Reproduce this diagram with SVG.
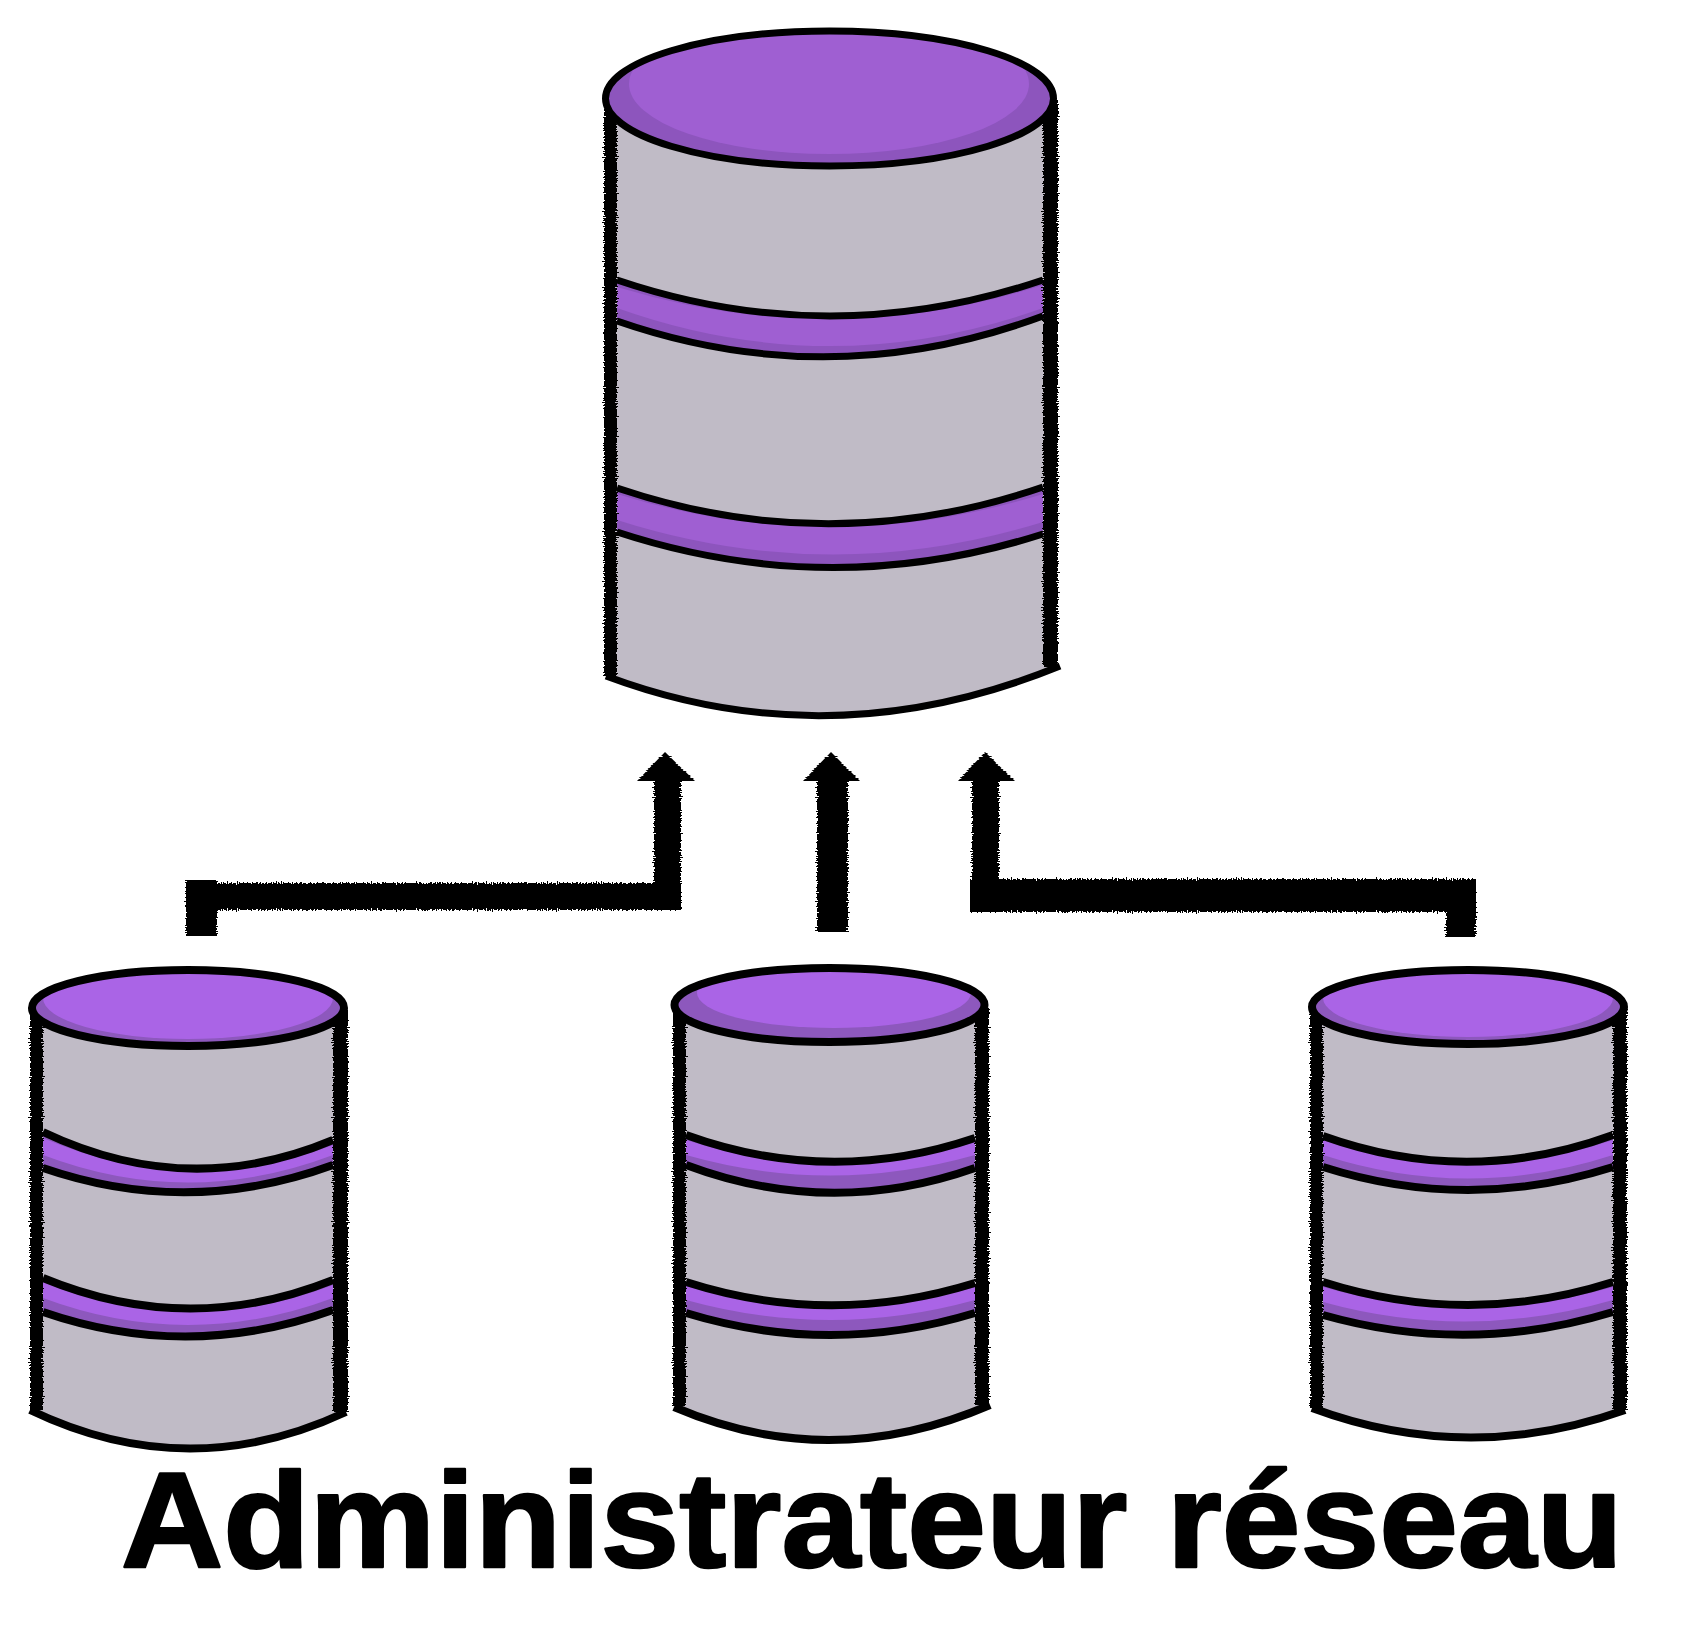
<svg xmlns="http://www.w3.org/2000/svg" width="1687" height="1630" viewBox="0 0 1687 1630">
<style>
.gray{fill:#c0bbc6}
.ln{fill:none;stroke:#000;stroke-width:7}
.lns{fill:none;stroke:#000;stroke-width:8}
.k{fill:#000}
.m1d{fill:#8d55bd}.m1l{fill:#9f5fd2}
.m2d{fill:#8d58bd}.m2l{fill:#aa64e6}
text{font-family:"Liberation Sans",Arial,sans-serif;font-weight:700;font-size:135px;fill:#000;stroke:#000;stroke-width:2.5;stroke-linejoin:round}
</style>
<defs>
<filter id="jx" filterUnits="userSpaceOnUse" x="0" y="0" width="1687" height="1630" color-interpolation-filters="sRGB">
<feTurbulence type="fractalNoise" baseFrequency="0.0001 0.8" numOctaves="2" seed="4" result="n"/>
<feColorMatrix in="n" type="matrix" values="1 0 0 0 0  0 0 0 0 0.5  0 0 0 0 0.5  0 0 0 0 1" result="m"/>
<feDisplacementMap in="SourceGraphic" in2="m" scale="7" xChannelSelector="R" yChannelSelector="G"/>
</filter>
<filter id="jy" filterUnits="userSpaceOnUse" x="0" y="0" width="1687" height="1630" color-interpolation-filters="sRGB">
<feTurbulence type="fractalNoise" baseFrequency="0.8 0.0001" numOctaves="2" seed="7" result="n"/>
<feColorMatrix in="n" type="matrix" values="0 0 0 0 0.5  1 0 0 0 0  0 0 0 0 0.5  0 0 0 0 1" result="m"/>
<feDisplacementMap in="SourceGraphic" in2="m" scale="7" xChannelSelector="R" yChannelSelector="G"/>
</filter>
<clipPath id="c0"><ellipse cx="829.5" cy="98.5" rx="224" ry="67.5"/></clipPath>
<clipPath id="c1"><ellipse cx="188" cy="1008" rx="156" ry="38"/></clipPath>
<clipPath id="c2"><ellipse cx="829.5" cy="1005" rx="155" ry="37"/></clipPath>
<clipPath id="c3"><ellipse cx="1468" cy="1007" rx="156" ry="36"/></clipPath>
</defs>

<g id="connectors">
<g filter="url(#jy)">
<rect class="k" x="186" y="883" width="495" height="27"/>
<rect class="k" x="970" y="879" width="506" height="33"/>
</g>
<g filter="url(#jx)">
<rect class="k" x="186" y="880" width="31" height="56"/>
<rect class="k" x="654" y="778" width="27" height="132"/>
<rect class="k" x="817" y="778" width="31" height="154"/>
<rect class="k" x="972" y="778" width="27" height="134"/>
<rect class="k" x="1446" y="885" width="30" height="52"/>
<polygon class="k" points="665,752 695,781 637,781"/>
<polygon class="k" points="831,752 860,781 803,781"/>
<polygon class="k" points="985,752 1015,781 958,781"/>
</g>
</g>

<g id="db-main">
<path class="gray" d="M612 97H1050V668Q830 760 612 676Z"/>
<path class="m1d" d="M617 282Q830 350 1043 282V317Q830 398 617 322Z"/>
<path class="m1l" d="M617 287Q830 352 1043 285V308Q830 384 617 308Z"/>
<path class="m1d" d="M617 489Q830 557 1043 489V534Q830 602 617 532Z"/>
<path class="m1l" d="M617 494Q830 560 1043 494V522Q830 588 617 520Z"/>
<path class="ln" d="M617 280Q830 352 1043 280M617 321Q830 395 1043 316M617 488Q830 560 1043 487M617 532Q830 602 1043 534M606 676Q830 760 1060 666"/>
<g filter="url(#jx)">
<rect class="k" x="604" y="100" width="13" height="576"/>
<rect class="k" x="1043" y="100" width="15" height="567"/>
</g>
<ellipse class="m1d" cx="829.5" cy="98.5" rx="224" ry="67.5"/>
<ellipse class="m1l" cx="829" cy="84" rx="200" ry="70" clip-path="url(#c0)"/>
<ellipse class="ln" cx="829.5" cy="98.5" rx="224" ry="67.5"/>
</g>

<g id="db-left">
<path class="gray" d="M38 1008H338V1412Q188 1484 38 1410Z"/>
<path class="m2d" d="M43 1135Q188 1200 333 1142V1165Q188 1221 43 1168Z"/>
<path class="m2l" d="M43 1138Q188 1200 333 1145V1155Q188 1210 43 1155Z"/>
<path class="m2d" d="M43 1280Q188 1338 333 1282V1310Q188 1364 43 1312Z"/>
<path class="m2l" d="M43 1282Q188 1340 333 1285V1298Q188 1352 43 1298Z"/>
<path class="lns" d="M43 1132Q188 1201 333 1140M43 1168Q188 1218 333 1165M43 1278Q188 1338 333 1280M43 1312Q188 1362 333 1310M30 1410Q188 1486 346 1412"/>
<g filter="url(#jx)">
<rect class="k" x="30" y="1010" width="13" height="400"/>
<rect class="k" x="333" y="1010" width="15" height="402"/>
</g>
<ellipse class="m2d" cx="188" cy="1008" rx="156" ry="38"/>
<ellipse class="m2l" cx="188" cy="998" rx="145" ry="41" clip-path="url(#c1)"/>
<ellipse class="lns" cx="188" cy="1008" rx="156" ry="38"/>
</g>

<g id="db-middle">
<path class="gray" d="M680 1006H980V1405Q830 1476 680 1407Z"/>
<path class="m2d" d="M686 1137Q830 1186 975 1140V1168Q830 1216 686 1165Z"/>
<path class="m2l" d="M686 1140Q830 1186 975 1142V1155Q830 1196 686 1155Z"/>
<path class="m2d" d="M686 1284Q830 1328 975 1285V1313Q830 1356 686 1313Z"/>
<path class="m2l" d="M686 1286Q830 1328 975 1287V1300Q830 1340 686 1300Z"/>
<path class="lns" d="M686 1135Q830 1187 975 1138M686 1165Q830 1219 975 1168M686 1282Q830 1328 975 1283M686 1313Q830 1357 975 1313M674 1407Q830 1474 990 1405"/>
<g filter="url(#jx)">
<rect class="k" x="673" y="1008" width="13" height="398"/>
<rect class="k" x="975" y="1008" width="14" height="397"/>
</g>
<ellipse class="m2d" cx="829.5" cy="1005" rx="155" ry="37"/>
<ellipse class="m2l" cx="834" cy="993" rx="137" ry="35" clip-path="url(#c2)"/>
<ellipse class="lns" cx="829.5" cy="1005" rx="155" ry="37"/>
</g>

<g id="db-right">
<path class="gray" d="M1318 1007H1620V1410Q1468 1465 1318 1408Z"/>
<path class="m2d" d="M1323 1138Q1468 1188 1613 1137V1167Q1468 1214 1323 1167Z"/>
<path class="m2l" d="M1323 1140Q1468 1188 1613 1140V1155Q1468 1202 1323 1155Z"/>
<path class="m2d" d="M1323 1284Q1468 1328 1613 1284V1312Q1468 1358 1323 1315Z"/>
<path class="m2l" d="M1323 1287Q1468 1328 1613 1287V1300Q1468 1342 1323 1302Z"/>
<path class="lns" d="M1323 1136Q1468 1188 1613 1135M1323 1167Q1468 1213 1613 1167M1323 1282Q1468 1328 1613 1282M1323 1315Q1468 1356 1613 1312M1312 1408Q1468 1466 1625 1410"/>
<g filter="url(#jx)">
<rect class="k" x="1310" y="1008" width="13" height="400"/>
<rect class="k" x="1613" y="1008" width="14" height="402"/>
</g>
<ellipse class="m2d" cx="1468" cy="1007" rx="156" ry="37"/>
<ellipse class="m2l" cx="1468" cy="998" rx="145" ry="39" clip-path="url(#c3)"/>
<ellipse class="lns" cx="1468" cy="1007" rx="156" ry="37"/>
</g>

<text id="caption" x="121" y="1567" textLength="1502" lengthAdjust="spacingAndGlyphs">Administrateur réseau</text>
</svg>
